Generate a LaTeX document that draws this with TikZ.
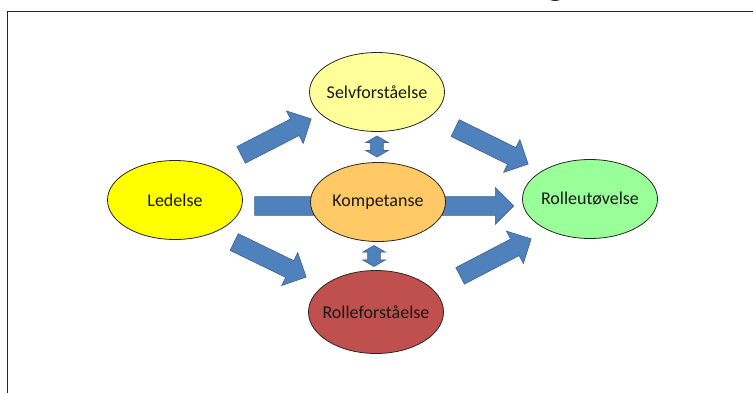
\documentclass[tikz,border=0pt]{standalone}
\usepackage{fontspec}
\setmainfont{Carlito}
\usetikzlibrary{shapes.geometric,shapes.arrows,calc,backgrounds}

\definecolor{arrowblue}{HTML}{4F81BD}
\definecolor{arrowline}{HTML}{3A6390}
\definecolor{ledyellow}{HTML}{FFFF00}
\definecolor{selvyellow}{HTML}{FFFF99}
\definecolor{komporange}{HTML}{FFC966}
\definecolor{rollered}{HTML}{C0504D}
\definecolor{utgreen}{HTML}{99FF99}

\tikzset{
  ell/.style={ellipse, draw=black!85, line width=0.8pt, minimum width=135pt,
    minimum height=79pt, inner sep=0pt},
  every label/.style={font=\fontsize{18}{20}\selectfont, text=black!90},
  blockarrow/.style={single arrow, fill=arrowblue, draw=arrowline, line width=0.6pt,
    inner xsep=0pt, inner ysep=9pt, single arrow head extend=9pt,
    single arrow tip angle=90},
  updown/.style={double arrow, rotate=90, fill=arrowblue, draw=arrowline,
    line width=0.6pt, minimum height=21pt, inner xsep=0pt, inner ysep=6pt,
    double arrow head extend=5pt, double arrow tip angle=120}
}

\begin{document}
\begin{tikzpicture}[x=1pt,y=-1pt]
    \clip (0,0) rectangle (753,392);

    % frame and cut-off title
    \draw[line width=1pt, black!85] (7.5,400) -- (7.5,11.5) -- (760,11.5);
    \node[anchor=base, inner sep=0pt, font=\fontsize{40}{44}\selectfont] (ttl) at (556,-5.5) {g};

    % ellipses
    \node[ell, fill=ledyellow, label=center:Ledelse] (led) at (175,200) {};
    \node[ell, fill=selvyellow, label=center:Selvforståelse] (selv) at (377,92) {};
    \node[ell, fill=komporange, label=center:Kompetanse] (komp) at (378,202) {};
    \node[ell, fill=rollered, minimum height=83pt, label=center:Rolleforståelse] (rfor) at (376,312) {};
    \node[ell, fill=utgreen, label=center:Rolleutøvelse] (rut) at (590,199) {};

    % arrow ends
    \coordinate (s1) at (237,157); \coordinate (e1) at (307,121);
    \coordinate (s2) at (230,240); \coordinate (e2) at (302,275);
    \coordinate (s3) at (451,126); \coordinate (e3) at (524,162);
    \coordinate (s4) at (456,278); \coordinate (e4) at (527,241);
    \coordinate (s5) at (250,206); \coordinate (e5) at (509,206);

    \begin{scope}[on background layer]
    \foreach \s/\e [count=\i] in {s1/e1, s2/e2, s3/e3, s4/e4, s5/e5}
      \path let \p1=(\s), \p2=(\e), \n1={atan2(\y2-\y1,\x2-\x1)},
        \n2={veclen(\x2-\x1,\y2-\y1)} in
        node[blockarrow, minimum height=\n2, rotate=\n1] (arr\i) at ($(\s)!0.5!(\e)$) {};
    \end{scope}

    \node[updown] (ud1) at (377,146.5) {};
    \node[updown] (ud2) at (374,256) {};
\end{tikzpicture}
\end{document}
